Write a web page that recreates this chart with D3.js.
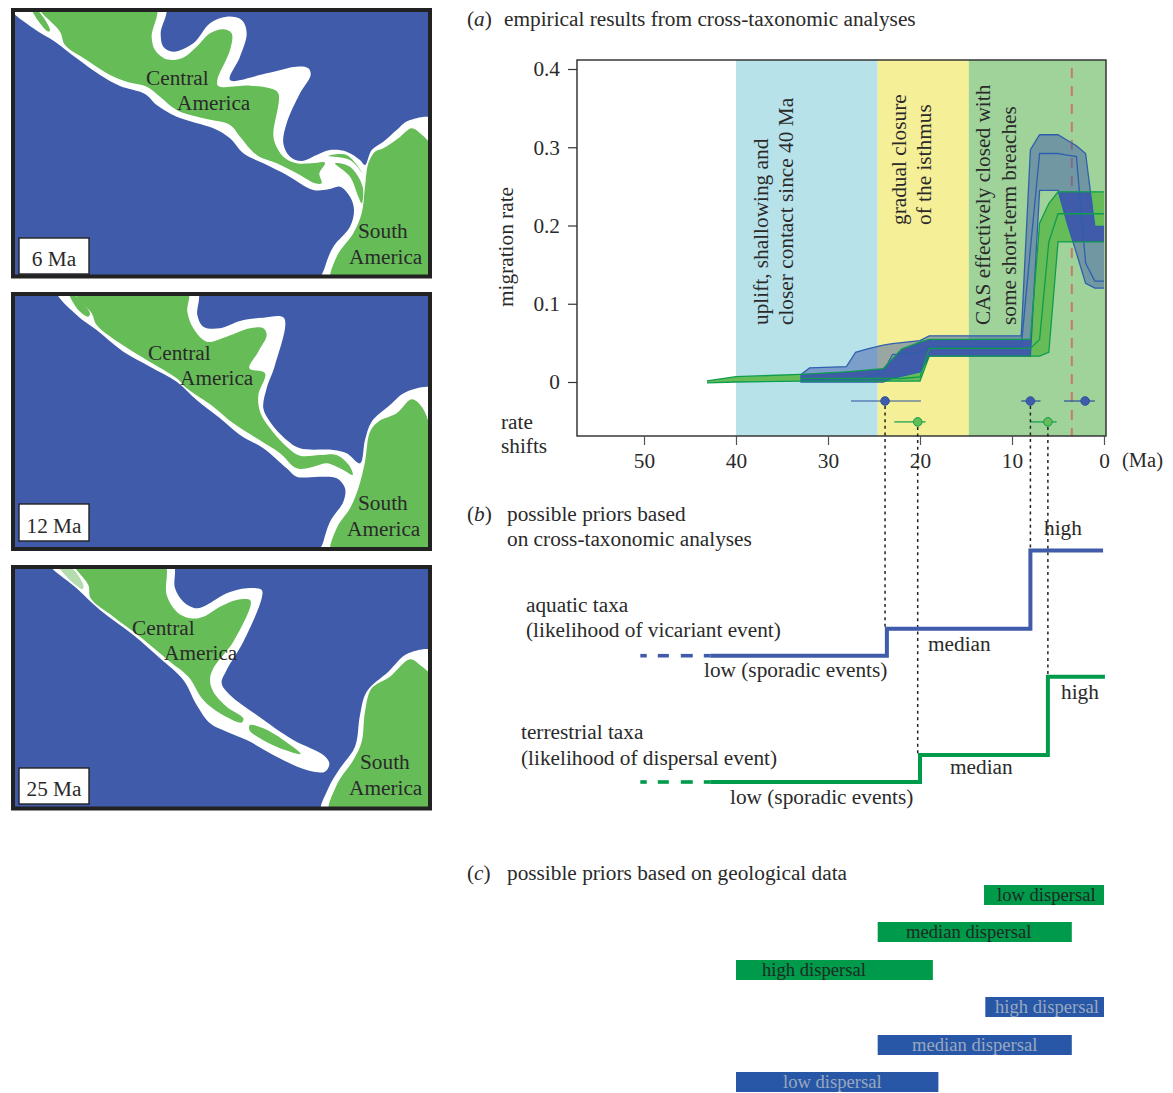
<!DOCTYPE html>
<html><head><meta charset="utf-8">
<script src="https://cdn.jsdelivr.net/npm/d3@7"></script>
<style>
html,body{margin:0;padding:0;background:#fff}
svg{display:block}
text{font-family:"Liberation Serif",serif;fill:#2a2a2a}
</style></head><body>
<svg id="c" width="1173" height="1093"></svg>
<script>
// ---------- chart values ----------
const maTicks=[50,40,30,20,10,0];
const rateTicks=[0,0.1,0.2,0.3,0.4];
const rateTickLabels=["0","0.1","0.2","0.3","0.4"];
const periodStart=[40,24.6,14.7];
const periodEnd=[24.6,14.7,-0.2];
const periodLabels=[["uplift, shallowing and","closer contact since 40 Ma"],["gradual closure","of the isthmus"],["CAS effectively closed with","some short-term breaches"]];
const marineMa=3.5;

const blueMa=[33,32,28,27,25.8,24,23,20,19,9,8,7,5,4,3,2,1,0];
const blueUpper=[.009,.018,.0196,.038,.042,.047,.049,.053,.059,.059,.297,.316,.316,.309,.302,.292,.199,.199];
const blueMedian=[.001,.002,.003,.004,.006,.012,.035,.0375,.045,.045,.17,.292,.292,.290,.288,.152,.129,.129];
const blueLower=[0,0,0,0,0,0,.0047,.013,.033,.033,.033,.245,.245,.203,.165,.126,.120,.120];

const greenMa=[43.15,40,33,28,24,22,20,19,8,7,6,5,0];
const greenUpper=[.0015,.0068,.0098,.013,.017,.042,.051,.0545,.0545,.203,.228,.243,.243];
const greenMedian=[.0005,.0025,.0047,.0045,.0045,.0045,.0065,.043,.043,.0545,.179,.215,.215];
const greenLower=[-.001,0,.001,.001,.001,.001,.0013,.033,.033,.033,.038,.179,.179];

const shiftBlueMa=[23.8,8,2.05], shiftBlueLo=[27.5,9,4.35], shiftBlueHi=[19.9,6.9,1];
const shiftGreenMa=[20.25,6.1], shiftGreenLo=[22.8,8], shiftGreenHi=[19.4,5.15];

const priorLevels=[0,.0345,.1345];
const aquaticBreaks=[23.6,8];
const terrestrialBreaks=[20,6.1];
const dashStart=[50.4,48.5,46,43.5], dashEnd=[49.7,47.3,44.7,42.8];

const geoLabels=["low dispersal","median dispersal","high dispersal","high dispersal","median dispersal","low dispersal"];
const geoStart=[13.04,24.6,40,12.9,24.6,40];
const geoEnd=[0,3.5,18.6,0,3.5,18];

// ---------- map outlines (map units) ----------
const map6Shelf=[[25,15],[100,85],[165,125],[230,175],[300,225],[360,258],[435,282],[470,315],[530,350],[640,385],[690,415],[730,460],[790,490],[860,525],[940,570],[985,568],[1020,560],[1050,590],[1062,630],[1050,680],[1000,740],[975,800],[965,850],[1310,850],[1310,360],[1225,362],[1190,390],[1150,425],[1115,450],[1095,495],[1080,480],[1040,455],[990,450],[950,465],[905,483],[870,470],[850,430],[860,370],[900,280],[932,225],[925,205],[890,200],[800,220],[690,240],[720,170],[740,100],[725,60],[680,50],[630,70],[580,130],[520,155],[490,140],[482,100],[495,15]];
const map6Land=[[115,15],[180,95],[195,135],[260,180],[330,225],[380,245],[440,260],[480,290],[530,330],[610,355],[690,375],[720,410],[770,465],[830,490],[900,525],[945,550],[965,550],[958,520],[975,488],[935,490],[890,490],[850,470],[825,430],[820,400],[835,280],[810,265],[750,257],[655,258],[652,240],[690,150],[695,100],[670,88],[630,100],[590,140],[545,175],[500,178],[465,150],[455,110],[467,15]];
const map6Islands=[[[92,20],[112,30],[150,90],[145,95],[120,70]],[[985,468],[1040,465],[1088,520],[1050,480]],[[1005,490],[1050,500],[1088,560],[1085,610],[1075,590],[1050,530]]];
const map6South=[[995,850],[1010,770],[1060,700],[1085,640],[1095,560],[1105,490],[1125,455],[1150,445],[1195,415],[1235,385],[1260,400],[1300,450],[1310,850]];

const map12Shelf=[[170,15],[230,90],[290,135],[370,200],[450,245],[530,290],[590,345],[660,400],[720,450],[790,490],[860,550],[890,575],[960,575],[1010,580],[1035,610],[1030,650],[990,710],[970,770],[960,810],[1310,810],[1310,315],[1220,320],[1170,360],[1115,410],[1095,465],[1080,535],[1040,505],[1000,495],[900,490],[860,465],[810,410],[790,370],[800,310],[825,240],[852,99],[790,98],[720,108],[660,130],[610,125],[592,90],[590,15]];
const map12Land=[[222,15],[275,85],[290,120],[360,175],[440,225],[530,280],[560,310],[640,365],[700,415],[770,460],[840,505],[890,550],[940,545],[980,535],[1030,555],[1058,570],[1050,545],[1010,510],[960,510],[900,512],[860,485],[810,430],[780,380],[775,330],[795,265],[748,250],[775,200],[800,150],[790,130],[750,130],[680,155],[620,170],[580,130],[562,80],[562,15]];
const map12Islands=[[[205,20],[245,50],[270,85],[265,95],[235,75]]];
const map12South=[[995,810],[1010,730],[1050,670],[1075,610],[1095,530],[1110,440],[1135,410],[1190,385],[1235,343],[1265,365],[1290,430],[1310,810]];

const map25Shelf=[[148,22],[230,100],[300,165],[400,240],[480,310],[550,375],[590,450],[630,505],[680,530],[740,555],[830,605],[920,645],[975,650],[988,625],[970,600],[880,555],[770,480],[690,420],[665,385],[680,345],[730,260],[785,130],[785,105],[740,100],[680,115],[620,150],[590,160],[550,140],[525,100],[515,20]];
const map25Land=[[220,20],[265,90],[272,130],[340,185],[420,245],[510,320],[565,365],[610,435],[660,475],[725,503],[730,490],[680,455],[640,410],[630,375],[640,340],[700,260],[752,150],[750,135],[710,135],[660,155],[610,185],[570,190],[530,170],[500,120],[490,20]];
const map25Islands=[[[750,510],[790,520],[850,555],[902,597],[840,580],[780,550],[748,525]]];
const map25Pale=[[[170,25],[215,40],[250,90],[248,102],[215,80]]];
const map25SouthShelf=[[965,780],[985,700],[1020,640],[1065,575],[1080,480],[1100,410],[1165,350],[1225,295],[1310,292],[1310,780]];
const map25South=[[990,780],[1010,690],[1060,615],[1085,560],[1095,470],[1115,400],[1170,365],[1230,313],[1260,330],[1300,375],[1310,780]];

// ---------- colours ----------
const BLUE="#3f5ba9",GREEN="#66bd58",DGREEN="#0e9c4e",LBLUE="#2f5fae",STEPG="#009a4b",INK="#2a2a2a";
const periodColors=["#b7e2ea","#f5f097","#a0d39a"];
const F=21.3;

const svg=d3.select("#c");
function txt(p,x,y,s,size,opt={}){
  const t=p.append("text").attr("x",x).attr("y",y).attr("font-size",size).text(s);
  if(opt.anchor)t.attr("text-anchor",opt.anchor);
  if(opt.fill)t.style("fill",opt.fill);
  return t;
}

// ---------- maps ----------
const mapU=d3.scaleLinear().domain([0,3]).range([0,1]);
const mapLine=d3.line().x(d=>mapU(d[0])).y(d=>mapU(d[1])).curve(d3.curveCatmullRomClosed.alpha(0.5));
const panels=[
 {id:"m6",top:0,x0:15,y0:12,y1:275,fx:[13,430],fy:[10,276.5],shelf:[map6Shelf],land:[map6Land,map6South,...map6Islands],pale:[],box:[238,274],name:"6 Ma",
  lab:[["Central",146,85],["America",177,110],["South",358,238],["America",349,264]],nameY:266},
 {id:"m12",top:285,x0:15,y0:296,y1:547,fx:[13,430],fy:[294,549],shelf:[map12Shelf],land:[map12Land,map12South,...map12Islands],pale:[],box:[504,541],name:"12 Ma",
  lab:[["Central",148,360],["America",180,385],["South",358,510],["America",347,536]],nameY:533},
 {id:"m25",top:555,x0:15,y0:568.3,y1:807,fx:[13,430],fy:[567,808.5],shelf:[map25Shelf,map25SouthShelf],land:[map25Land,map25South,...map25Islands],pale:map25Pale,box:[768,804],name:"25 Ma",
  lab:[["Central",132,635],["America",164,660],["South",360,769],["America",349,795]],nameY:796}
];
const defs=svg.append("defs");
panels.forEach(p=>{
  defs.append("clipPath").attr("id","clip"+p.id).append("rect").attr("x",p.x0).attr("y",p.y0).attr("width",428-p.x0).attr("height",p.y1-p.y0);
  const g=svg.append("g");
  g.append("rect").attr("x",p.x0).attr("y",p.y0).attr("width",428-p.x0).attr("height",p.y1-p.y0).attr("fill",BLUE);
  const m=g.append("g").attr("clip-path",`url(#clip${p.id})`).append("g").attr("transform",`translate(0,${p.top})`);
  m.selectAll("path.s").data(p.shelf).join("path").attr("class","s").attr("d",mapLine).attr("fill","#fff");
  m.selectAll("path.l").data(p.land).join("path").attr("class","l").attr("d",mapLine).attr("fill",GREEN);
  m.selectAll("path.p").data(p.pale).join("path").attr("class","p").attr("d",mapLine).attr("fill","#b5dcae");
  g.append("rect").attr("x",p.fx[0]).attr("y",p.fy[0]).attr("width",p.fx[1]-p.fx[0]).attr("height",p.fy[1]-p.fy[0]).attr("fill","none").attr("stroke","#222").attr("stroke-width",4);
  g.append("rect").attr("x",19).attr("y",p.box[0]).attr("width",70).attr("height",p.box[1]-p.box[0]).attr("fill","#fff").attr("stroke","#222").attr("stroke-width",1.4);
  txt(g,54,p.nameY,p.name,F,{anchor:"middle"});
  p.lab.forEach(l=>txt(g,l[1],l[2],l[0],F));
});

// ---------- panel (a) ----------
const x=d3.scaleLinear().domain([50,0]).range([644,1104]);
const y=d3.scaleLinear().domain([0,.4]).range([382,69]);
const box={l:577,r:1106,t:60,b:436};
const a=svg.append("g");
a.append("rect").attr("x",box.l).attr("y",box.t).attr("width",box.r-box.l).attr("height",box.b-box.t).attr("fill","#fff");
periodStart.forEach((s,i)=>a.append("rect").attr("x",x(s)).attr("y",box.t).attr("width",x(periodEnd[i])-x(s)).attr("height",box.b-box.t).attr("fill",periodColors[i]));
a.append("line").attr("x1",x(marineMa)).attr("x2",x(marineMa)).attr("y1",box.t+8).attr("y2",box.b).attr("stroke","#c9776f").attr("stroke-width",2).attr("stroke-dasharray","10,8");

const blueIdx=blueMa.map((_,i)=>i), greenIdx=greenMa.map((_,i)=>i);
const areaOf=(ma,up,lo)=>d3.area().x(i=>x(ma[i])).y0(i=>y(lo[i])).y1(i=>y(up[i]));
const lineOf=(ma,v)=>d3.line().x(i=>x(ma[i])).y(i=>y(v[i]));
const bands=a.append("g");
const gArea=areaOf(greenMa,greenUpper,greenLower)(greenIdx), bArea=areaOf(blueMa,blueUpper,blueLower)(blueIdx);
defs.append("clipPath").attr("id","greenClip").append("path").attr("d",gArea);
bands.append("path").attr("d",gArea).attr("fill",GREEN);
bands.append("path").attr("d",bArea).attr("fill",BLUE).attr("fill-opacity",.5);
bands.append("path").attr("d",bArea).attr("fill",BLUE).attr("clip-path","url(#greenClip)");
[blueUpper,blueMedian,blueLower].forEach(v=>bands.append("path").attr("d",lineOf(blueMa,v)(blueIdx)).attr("fill","none").attr("stroke",LBLUE).attr("stroke-width",1.3));
[greenUpper,greenLower].forEach(v=>bands.append("path").attr("d",lineOf(greenMa,v)(greenIdx)).attr("fill","none").attr("stroke",DGREEN).attr("stroke-width",1.3));
bands.append("path").attr("d",lineOf(greenMa,greenMedian)(greenIdx.slice(2))).attr("fill","none").attr("stroke",DGREEN).attr("stroke-width",1.3);

// period labels (rotated)
const perAt=[[768,793,325],[906,931,225],[990,1016,325]];
periodLabels.forEach((ls,i)=>{
  ls.forEach((s,j)=>{
    a.append("text").attr("transform",`translate(${perAt[i][j]},${perAt[i][2]}) rotate(-90)`).attr("font-size",F).text(s);
  });
});

// rate-shift points
const shiftBlueRate=-.0243, shiftGreenRate=-.051;
const shifts=(ma,lo,hi,rate,stroke,fill)=>{
  ma.forEach((m,i)=>{
    a.append("line").attr("x1",x(lo[i])).attr("x2",x(hi[i])).attr("y1",y(rate)).attr("y2",y(rate)).attr("stroke",stroke).attr("stroke-width",1.2);
    a.append("circle").attr("cx",x(m)).attr("cy",y(rate)).attr("r",4.3).attr("fill",fill).attr("stroke",stroke).attr("stroke-width",1);
  });
};
shifts(shiftBlueMa,shiftBlueLo,shiftBlueHi,shiftBlueRate,"#2a4f9e",BLUE);
shifts(shiftGreenMa,shiftGreenLo,shiftGreenHi,shiftGreenRate,DGREEN,GREEN);

a.append("rect").attr("x",box.l).attr("y",box.t).attr("width",box.r-box.l).attr("height",box.b-box.t).attr("fill","none").attr("stroke","#2a2a2a").attr("stroke-width",1.4);

// axes
const xAxis=a.append("g").attr("transform",`translate(0,${box.b})`).call(d3.axisBottom(x).tickValues(maTicks).tickSize(9).tickPadding(8).tickFormat(d3.format("d")));
xAxis.select(".domain").remove();
xAxis.selectAll("line").attr("stroke","#555").attr("stroke-width",1.2);
xAxis.selectAll("text").attr("font-size",F).style("font-family","Liberation Serif");
const yAxis=a.append("g").attr("transform",`translate(${box.l},0)`).call(d3.axisLeft(y).tickValues(rateTicks).tickSize(9).tickPadding(8).tickFormat((d,i)=>rateTickLabels[i]));
yAxis.select(".domain").remove();
yAxis.selectAll("line").attr("stroke","#333").attr("stroke-width",1.2);
yAxis.selectAll("text").attr("font-size",F).style("font-family","Liberation Serif");
a.append("text").attr("transform","translate(513,247) rotate(-90)").attr("text-anchor","middle").attr("font-size",F).text("migration rate");
txt(a,1122,467,"(Ma)",20.5);
txt(a,501,429,"rate",F);
txt(a,501,453,"shifts",F);

// ---------- panel headings ----------
function heading(yy,letter,s,tx){
  const t=svg.append("text").attr("x",467).attr("y",yy).attr("font-size",F);
  t.append("tspan").text("(");
  t.append("tspan").attr("font-style","italic").text(letter);
  t.append("tspan").text(")");
  txt(svg,tx,yy,s,F);
}
heading(26,"a","empirical results from cross-taxonomic analyses",504);
heading(521,"b","possible priors based",507);
txt(svg,507,546,"on cross-taxonomic analyses",F);
heading(880,"c","possible priors based on geological data",507);

// ---------- panel (b) ----------
const priorY=d3.scaleLinear().domain([0,.1]).range([0,-78.3]);
function prior(base,breaks,color,lastX){
  const g=svg.append("g").attr("transform",`translate(0,${base})`);
  const pts=[[dashEnd[3],0],[breaks[0],0],[breaks[0],priorLevels[1]],[breaks[1],priorLevels[1]],[breaks[1],priorLevels[2]],[lastX,priorLevels[2]]];
  g.append("path").attr("d",d3.line().x(d=>x(d[0])).y(d=>priorY(d[1]))(pts)).attr("fill","none").attr("stroke",color).attr("stroke-width",4).attr("stroke-linejoin","miter");
  dashStart.forEach((s,i)=>g.append("line").attr("x1",x(s)).attr("x2",x(dashEnd[i])).attr("y1",0).attr("y2",0).attr("stroke",color).attr("stroke-width",3.6));
}
// dotted guides
const guideSpec=[[shiftBlueMa[0],-.0243,"b",1],[shiftGreenMa[0],-.051,"g",1],[shiftBlueMa[1],-.0243,"b",2],[shiftGreenMa[1],-.051,"g",2]];
const blueBase=655.7, greenBase=782;
guideSpec.forEach(([m,r,k,lv])=>{
  const end=(k==="b"?blueBase:greenBase)+priorY(priorLevels[lv]);
  svg.append("line").attr("x1",x(m)).attr("x2",x(m)).attr("y1",y(r)+5).attr("y2",end).attr("stroke","#222").attr("stroke-width",1.5).attr("stroke-dasharray","3,3.6");
});
prior(blueBase,aquaticBreaks,BLUE,.1);
prior(greenBase,terrestrialBreaks,STEPG,-.1);

txt(svg,526,612,"aquatic taxa",F);
txt(svg,526,637,"(likelihood of vicariant event)",F);
txt(svg,704,677,"low (sporadic events)",F);
txt(svg,928,651,"median",F);
txt(svg,1044,535,"high",F);
txt(svg,521,739,"terrestrial taxa",F);
txt(svg,521,765,"(likelihood of dispersal event)",F);
txt(svg,730,804,"low (sporadic events)",F);
txt(svg,950,774,"median",F);
txt(svg,1061,699,"high",F);

// ---------- panel (c) ----------
const geoTop=[885,922,960,997,1035,1072];
const geoText=[997,906,762,995,912,783];
geoLabels.forEach((s,i)=>{
  const isB=i>2;
  svg.append("rect").attr("x",x(geoStart[i])).attr("y",geoTop[i]).attr("width",x(geoEnd[i])-x(geoStart[i])).attr("height",20).attr("fill",isB?"#2757a6":"#009a4b");
  txt(svg,geoText[i],geoTop[i]+16,s,18.6,{fill:isB?"#9aa8bf":"#1d2a22"});
});
</script>
</body></html>
